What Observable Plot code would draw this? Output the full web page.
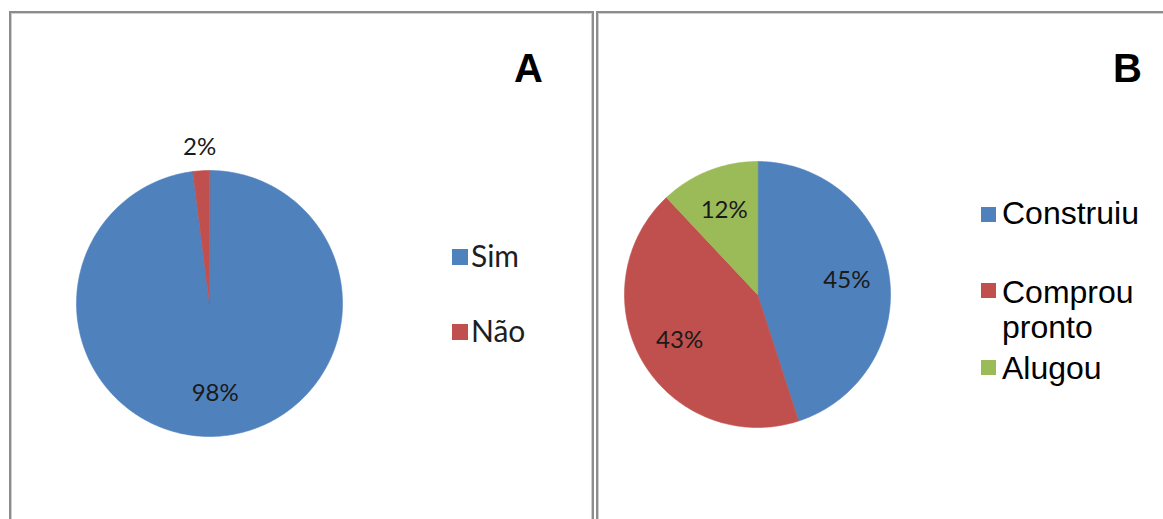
<!DOCTYPE html>
<html>
<head>
<meta charset="utf-8">
<script src="https://cdn.jsdelivr.net/npm/d3@7"></script>
<script src="https://cdn.jsdelivr.net/npm/@observablehq/plot@0.6"></script>
<style>
  html, body { margin: 0; padding: 0; background: #fff; }
  #page { position: relative; width: 1163px; height: 519px; overflow: hidden; background: #fff; }
  .panel {
    position: absolute; top: 11px; height: 540px; box-sizing: border-box;
    border: 2px solid #8c8c8c; box-shadow: inset 1px 1px 0 #cfcfcf, inset -1px 0 0 #cfcfcf;
    background: #fff; overflow: hidden;
  }
  #panelA { left: 9px; width: 585px; }
  #panelB { left: 596px; width: 600px; }
  .panel svg { position: absolute; left: 0; top: 0; }
  .letter { position: absolute; font-family: "Liberation Sans", Arial, sans-serif; font-weight: bold; font-size: 40px; line-height: 1; color: #000; }
  .legend { position: absolute; }
  .legend .sw { position: absolute; }
  .legend .lbl { position: absolute; color: #000; }
  #legendA .lbl { font-family: Lato, "Open Sans", sans-serif; font-size: 30px; line-height: 1; color: #1e1e1e; }
  #legendB .lbl { font-family: "Liberation Sans", Arial, sans-serif; font-size: 32px; line-height: 35px; }
</style>
</head>
<body>
<div id="page">
  <div id="panelA" class="panel"></div>
  <div id="panelB" class="panel"></div>
</div>
<script>
// Chart A: does the household own the dwelling?
const catsA = ["Sim", "Não"];
const valuesA = [98, 2];
const colorsA = ["#4F81BD", "#C0504D"];

// Chart B: how the dwelling was obtained
const catsB = ["Construiu", "Comprou pronto", "Alugou"];
const valuesB = [45, 43, 12];
const colorsB = ["#4F81BD", "#C0504D", "#9BBB59"];

// Slices start at 12 o'clock and run clockwise, like the spreadsheet default.
function slicePoints(cats, values) {
  const arcs = d3.pie().sort(null).value(d => d)(values);
  const pts = [];
  arcs.forEach((a, i) => {
    const n = Math.max(2, Math.ceil((a.endAngle - a.startAngle) / (Math.PI / 360)));
    pts.push({cat: cats[i], x: 0, y: 0});
    for (let k = 0; k <= n; k++) {
      const t = a.startAngle + (a.endAngle - a.startAngle) * k / n;
      pts.push({cat: cats[i], x: Math.sin(t), y: Math.cos(t)});
    }
  });
  return pts;
}

// Percentage labels sit inside the slice, small slices get theirs outside the rim.
function labelPoints(cats, values) {
  const arcs = d3.pie().sort(null).value(d => d)(values);
  const total = d3.sum(values);
  return arcs.map((a, i) => {
    const mid = (a.startAngle + a.endAngle) / 2;
    const rr = values[i] / total < 0.05 ? 1.18 : 0.68;
    return {cat: cats[i], text: values[i] + "%", x: rr * Math.sin(mid), y: rr * Math.cos(mid)};
  });
}

function pie({cats, values, colors, width, height, cx, cy, r}) {
  return Plot.plot({
    width, height,
    margin: 0,
    x: {domain: [-1, 1], range: [cx - r, cx + r], axis: null},
    y: {domain: [-1, 1], range: [cy + r, cy - r], axis: null},
    color: {domain: cats, range: colors, legend: false},
    style: {background: "transparent", overflow: "visible"},
    marks: [
      Plot.line(slicePoints(cats, values), {
        x: "x", y: "y", z: "cat", fill: "cat", stroke: "cat", strokeWidth: 0.6, curve: "linear-closed"
      }),
      Plot.text(labelPoints(cats, values), {
        x: "x", y: "y", text: "text", fill: "#1a1a1a",
        fontFamily: "Lato, 'Open Sans', sans-serif", fontSize: 24,
        textAnchor: "middle", lineAnchor: "middle"
      })
    ]
  });
}

function legend(id, cats, colors, items) {
  const box = document.createElement("div");
  box.id = id; box.className = "legend";
  cats.forEach((c, i) => {
    const it = items[i];
    const sw = document.createElement("div");
    sw.className = "sw";
    Object.assign(sw.style, {left: it.sx + "px", top: it.sy + "px", width: it.s + "px", height: it.s + "px", background: colors[i]});
    const lb = document.createElement("div");
    lb.className = "lbl";
    Object.assign(lb.style, {left: it.tx + "px", top: it.ty + "px", width: it.w + "px", whiteSpace: "normal"});
    lb.textContent = c;
    box.append(sw, lb);
  });
  return box;
}

// Panel A (inner origin at page 11,13)
const panelA = document.getElementById("panelA");
panelA.append(pie({cats: catsA, values: valuesA, colors: colorsA, width: 581, height: 525, cx: 198, cy: 290, r: 133}));
const letterA = document.createElement("div");
letterA.className = "letter"; letterA.textContent = "A";
Object.assign(letterA.style, {left: "503px", top: "35px"});
panelA.append(letterA);
panelA.append(legend("legendA", catsA, colorsA, [
  {sx: 441, sy: 236, s: 16, tx: 460, ty: 227, w: 100},
  {sx: 441, sy: 311, s: 16, tx: 460, ty: 302, w: 100}
]));

// Panel B (inner origin at page 598,13)
const panelB = document.getElementById("panelB");
panelB.append(pie({cats: catsB, values: valuesB, colors: colorsB, width: 596, height: 525, cx: 159, cy: 281, r: 133}));
const letterB = document.createElement("div");
letterB.className = "letter"; letterB.textContent = "B";
Object.assign(letterB.style, {left: "515px", top: "35px"});
panelB.append(letterB);
panelB.append(legend("legendB", catsB, colorsB, [
  {sx: 383, sy: 194, s: 15, tx: 404, ty: 183, w: 170},
  {sx: 383, sy: 270, s: 15, tx: 404, ty: 262, w: 150},
  {sx: 383, sy: 347, s: 15, tx: 404, ty: 338, w: 170}
]));
</script>
</body>
</html>
